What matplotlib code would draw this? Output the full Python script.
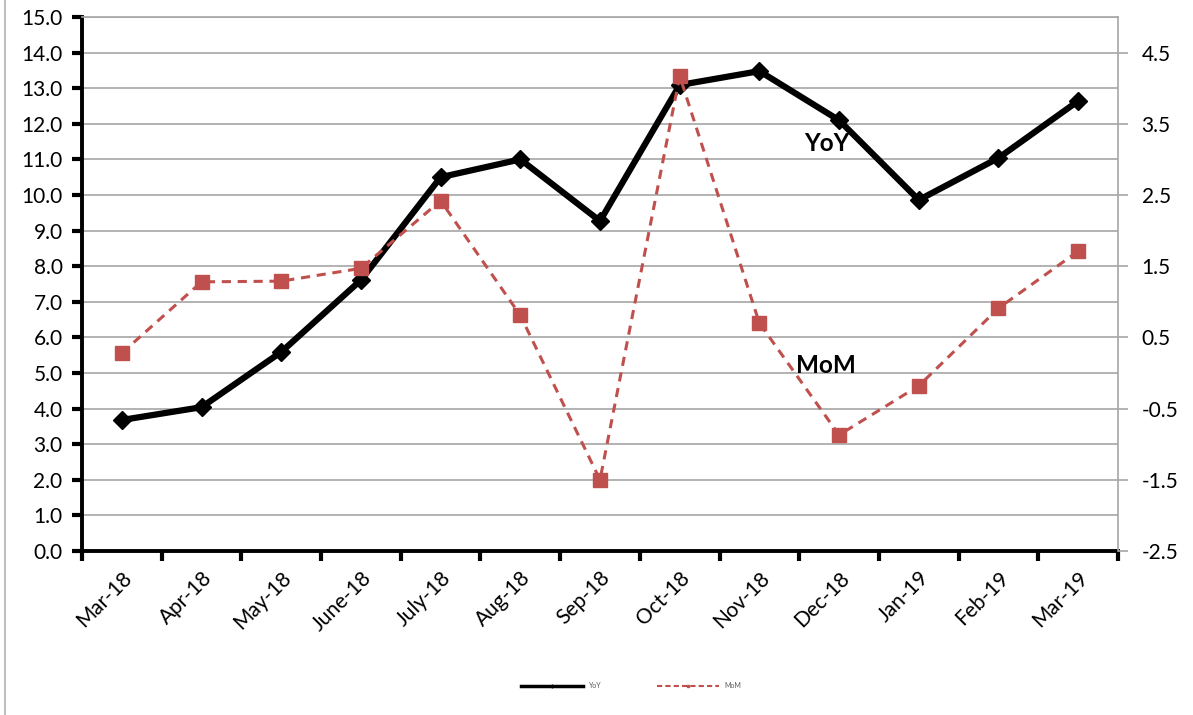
import matplotlib
matplotlib.use("Agg")
import matplotlib.pyplot as plt
from matplotlib.lines import Line2D
from matplotlib.ticker import FormatStrFormatter, MultipleLocator, FixedLocator

plt.rcParams['font.family'] = ['Lato', 'DejaVu Sans']

months = ['Mar-18', 'Apr-18', 'May-18', 'June-18', 'July-18', 'Aug-18', 'Sep-18',
          'Oct-18', 'Nov-18', 'Dec-18', 'Jan-19', 'Feb-19', 'Mar-19']
yoy = [3.68, 4.04, 5.59, 7.61, 10.5, 11.0, 9.27, 13.09, 13.48, 12.1, 9.86, 11.04, 12.64]
mom = [0.28, 1.28, 1.29, 1.47, 2.42, 0.81, -1.50, 4.17, 0.70, -0.87, -0.18, 0.91, 1.71]

RED = '#C0504D'
GRID = '#A6A6A6'

fig = plt.figure(figsize=(11.93, 7.15), dpi=100)
ax = fig.add_axes([82 / 1193, 1 - 551 / 715, (1118 - 82) / 1193, (551 - 17) / 715])
x = range(len(months))

ax.plot(x, yoy, color='black', lw=4.5, marker='D', ms=9, zorder=3)
ax.set_xlim(-0.5, len(months) - 0.5)
ax.set_ylim(0, 15)
ax.yaxis.set_major_locator(MultipleLocator(1))
ax.yaxis.set_major_formatter(FormatStrFormatter('%.1f'))
ax.grid(axis='y', color=GRID, lw=1.2)
ax.set_axisbelow(True)

ax.set_xticks(list(x))
ax.set_xticklabels(months, rotation=45, ha='right', rotation_mode='anchor')
ax.xaxis.set_minor_locator(FixedLocator([i - 0.5 for i in range(len(months) + 1)]))
ax.tick_params(axis='x', which='major', length=0, pad=12, labelsize=15)
ax.tick_params(axis='x', which='minor', length=7, width=3, direction='out')
ax.tick_params(axis='y', length=7, width=3, direction='out', labelsize=15, pad=7)

for side in ('left', 'bottom'):
    ax.spines[side].set_linewidth(2.8)
    ax.spines[side].set_color('black')
ax.spines['top'].set_color(GRID)
ax.spines['top'].set_linewidth(1.2)
ax.spines['right'].set_visible(False)

ax2 = ax.twinx()
ax2.plot(x, mom, color=RED, lw=2.2, ls=(0, (3, 2.2)), marker='s', ms=10, zorder=4)
ax2.set_ylim(-2.5, 5.0)
ax2.set_yticks([-2.5, -1.5, -0.5, 0.5, 1.5, 2.5, 3.5, 4.5])
ax2.yaxis.set_major_formatter(FormatStrFormatter('%.1f'))
ax2.tick_params(axis='y', length=7, width=1.2, color=GRID, direction='out',
                labelsize=15, pad=10)
ax2.spines['right'].set_color(GRID)
ax2.spines['right'].set_linewidth(1.2)
for side in ('left', 'bottom', 'top'):
    ax2.spines[side].set_visible(False)

ax.text(8.85, 11.45, 'YoY', fontsize=17.5, fontweight='bold', ha='center', va='center')
ax.text(8.83, 5.2, 'MoM', fontsize=17.5, fontweight='bold', ha='center', va='center')

handles = [Line2D([], [], color='black', lw=2.5, marker='D', ms=1.5),
           Line2D([], [], color=RED, lw=1.5, ls=(0, (2.5, 1.5)), marker='s', ms=1.5)]
fig.legend(handles, ['YoY', 'MoM'], loc='center', bbox_to_anchor=(0.529, 0.0406),
           ncol=2, frameon=False, fontsize=5, handlelength=9, columnspacing=8,
           labelcolor='#595959')

fig.add_artist(Line2D([5 / 1193, 5 / 1193], [0, 1], transform=fig.transFigure,
                      color='#BFBFBF', lw=1.5))

fig.savefig('out.png', dpi=100)
